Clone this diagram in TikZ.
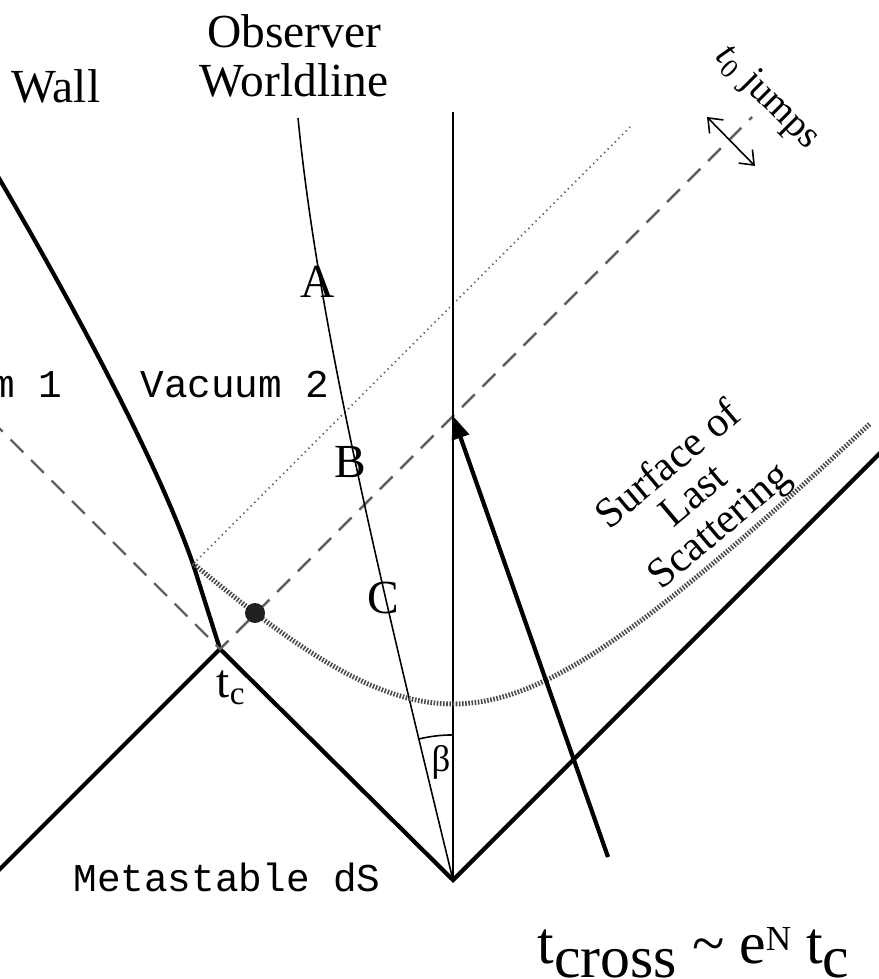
\documentclass[tikz,border=0pt]{standalone}
\usepackage{fontspec}
\setmainfont{Liberation Serif}
\setmonofont{Liberation Mono}
\usetikzlibrary{arrows.meta}

\begin{document}
\begin{tikzpicture}[x=0.01cm, y=-0.01cm, >={Straight Barb[length=3.5pt, width=5.5pt]},
    cone/.style={line width=1.2pt},
    wline/.style={line width=0.45pt},
    ray/.style={gray!75!black, line width=0.7pt, dash pattern=on 0.18cm off 0.11cm},
    dotray/.style={gray!70!black, line width=0.5pt, dash pattern=on 0.35pt off 1.1pt},
    lss/.style={gray!60!black, line width=1.4pt, dash pattern=on 0.45pt off 0.45pt},
    lbl/.style={inner sep=0pt, font=\fontsize{13.5}{13.9}\selectfont},
    vac/.style={inner sep=0pt, font=\ttfamily\fontsize{11.2}{12}\selectfont}]
    \useasboundingbox (0,0) rectangle (879,979);
    \clip (0,0) rectangle (879,979);

    % 光锥
    \coordinate (tc) at (220,649);
    \coordinate (O) at (453,880);
    \coordinate (farL) at (-20,889);
    \coordinate (farR) at (900,433);
    \draw[cone, line join=miter] (farL) -- (tc) -- (O) -- (farR);

    % 畴壁
    \coordinate (kink) at (193,564);
    \coordinate (wallTop) at (-10,163);
    \draw[cone] (tc) -- (kink) .. controls (155,455) and (65,290) .. (wallTop);

    % 光线
    \coordinate (rayL) at (-10,419);
    \coordinate (cross) at (453,416);
    \coordinate (rayEnd) at (752,117);
    \draw[ray] (rayL) -- (tc) -- (cross) -- (rayEnd);
    \coordinate (dotEnd) at (630,127);
    \draw[dotray] (kink) -- (dotEnd);

    % 世界线
    \coordinate (vTop) at (453,112);
    \draw[wline] (O) -- (vTop);
    \coordinate (obsTop) at (298,118);
    \draw[wline] (O) .. controls (375,560) and (318,320) .. (obsTop);
    \draw[wline] ([yshift=1.45cm]O) arc[start angle=90, end angle=104, radius=1.45cm];
    \node[inner sep=0pt, font=\fontsize{10.5}{11}\selectfont] (beta) at (441,762) {β};

    % 最后散射面
    \draw[lss] plot[domain=-260:417, samples=90] ({453+\x}, {704-100*(sqrt(2.89+(\x/100)^2)-1.7)});
    \node[circle, fill=gray!25!black, minimum size=0.2cm, inner sep=0pt] (event) at (255,613) {};
    \node[lbl, rotate=40, align=center, font=\fontsize{12}{11.3}\selectfont] (lssLabel) at (695,497) {Surface of\\Last\\Scattering};

    % 标签
    \node[lbl, anchor=base] (wall) at (56,103) {Wall};
    \node[lbl, align=center] (obs) at (294,56) {Observer\\Worldline};
    \foreach \n/\px/\py in {A/318/297, B/350/477, C/383/613} {
        \node[lbl, anchor=base] (lbl\n) at (\px,\py) {\n};
    }
    \node[vac, anchor=base east] (vac1) at (63,397) {Vacuum 1};
    \node[vac, anchor=base] (vac2) at (235,397) {Vacuum 2};
    \node[vac, anchor=base] (meta) at (227,891) {Metastable dS};
    \node[lbl, anchor=base west] (tcLabel) at (216,697) {t\textsubscript{c}};

    % t0 跳变
    \coordinate (jumpA) at (707,117);
    \coordinate (jumpB) at (755,166);
    \draw[wline, <->] (jumpA) -- (jumpB);
    \node[lbl, rotate=-45, font=\fontsize{11}{12}\selectfont] (jumps) at (767,98) {\textit{t}\textsubscript{0} jumps};

    % 穿越时间
    \node[anchor=base west, inner sep=0pt, font=\fontsize{17}{20}\selectfont] (tcross) at (537,963)
        {t\raisebox{-4pt}{cross} \textasciitilde{} e\raisebox{3.7pt}{\fontsize{10}{10}\selectfont N} t\raisebox{-4pt}{c}};
    \coordinate (arrowTail) at (608,857);
    \draw[line width=1.2pt, -{Triangle[length=6.5pt, width=5pt]}] (arrowTail) -- (cross);
\end{tikzpicture}
\end{document}
